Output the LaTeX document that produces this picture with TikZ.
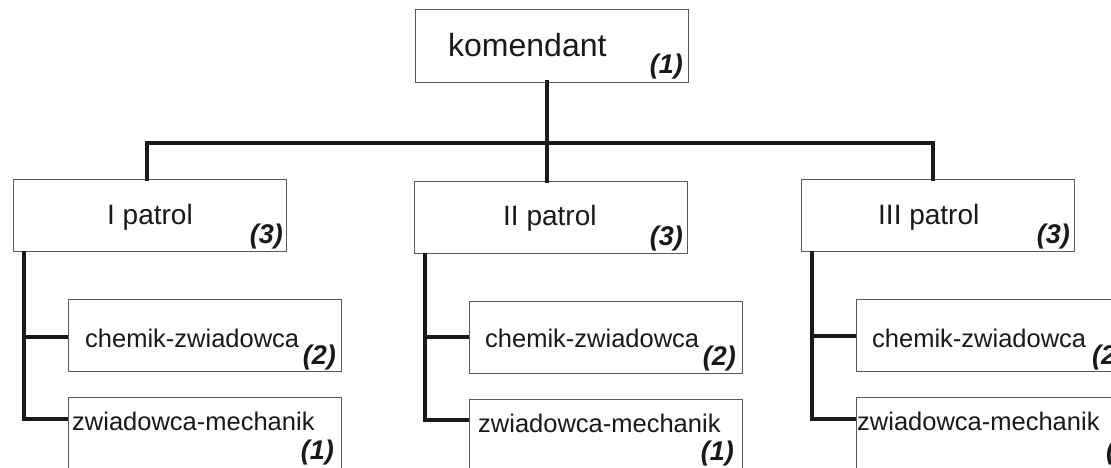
\documentclass[tikz,border=0pt]{standalone}
\usepackage{fontspec}
\setmainfont{Liberation Sans}
\begin{document}
\begin{tikzpicture}[x=1pt,y=-1pt,
  box/.style={draw=black!65, line width=0.8pt, fill=white, minimum width=273pt, minimum height=72pt, inner sep=0pt, anchor=center},
  conn/.style={line width=4pt, black!90, line cap=rect},
  big/.style={font=\fontsize{32}{36}\selectfont, inner sep=0pt, text=black!90},
  mid/.style={font=\fontsize{28}{32}\selectfont, inner sep=0pt, text=black!90},
  small/.style={font=\fontsize{25.5}{30}\selectfont, inner sep=0pt, text=black!90},
  num/.style={font=\fontsize{27}{30}\selectfont\bfseries\itshape, inner sep=0pt, anchor=base east, text=black!90}]
\clip (0,0) rectangle (1111,468);
\fill[white] (0,0) rectangle (1111,468);
\coordinate (b1) at (147,143);
\coordinate (b2) at (547,143);
\coordinate (b3) at (933,143);
% boxes
\node[box, minimum height=73pt] (K) at (551.5,45.5) {};
\node[box] (P1) at (149.5,215) {};
\node[box] (P2) at (550.5,217) {};
\node[box] (P3) at (937.5,215) {};
\node[box] (C1) at (204.5,335) {};
\node[box] (Z1) at (204.5,433) {};
\node[box] (C2) at (605.5,337) {};
\node[box] (Z2) at (605.5,435) {};
\node[box] (C3) at (992.5,335) {};
\node[box] (Z3) at (992.5,433) {};
% top bus
\draw[conn] (K.south -| b2) -- (b2);
\draw[conn] (b1) -- (b3);
\draw[conn] (b1) -- (b1 |- P1.north);
\draw[conn] (b2) -- (b2 |- P2.north);
\draw[conn] (b3) -- (b3 |- P3.north);
% spines
\coordinate (s1) at (24,419);
\coordinate (s2) at (425,420);
\coordinate (s3) at (812,419);
\draw[conn, line cap=butt] (s1 |- P1.south) -- (s1) -- (s1 -| Z1.west);
\draw[conn, line cap=butt] (24,337) -- (24,337 -| C1.west);
\draw[conn, line cap=butt] (s2 |- P2.south) -- (s2) -- (s2 -| Z2.west);
\draw[conn, line cap=butt] (425,337) -- (425,337 -| C2.west);
\draw[conn, line cap=butt] (s3 |- P3.south) -- (s3) -- (s3 -| Z3.west);
\draw[conn, line cap=butt] (812,336) -- (812,336 -| C3.west);
% texts
\node[big, anchor=base west] (tK) at (448,57) {komendant};
\node[num] (nK) at (683,74) {(1)};
\node[mid, anchor=base west] (tP1) at (107,224) {I patrol};
\node[num] (nP1) at (283,243) {(3)};
\node[mid, anchor=base west] (tP2) at (503,225) {II patrol};
\node[num] (nP2) at (683,245) {(3)};
\node[mid, anchor=base west] (tP3) at (878,224) {III patrol};
\node[num] (nP3) at (1070,243) {(3)};
\node[small, anchor=base west] (tC1) at (85,347) {chemik-zwiadowca};
\node[num] (nC1) at (336,364) {(2)};
\node[small, anchor=base west] (tZ1) at (72,430) {zwiadowca-mechanik};
\node[num] (nZ1) at (334,459) {(1)};
\node[small, anchor=base west] (tC2) at (485,347) {chemik-zwiadowca};
\node[num] (nC2) at (736,365) {(2)};
\node[small, anchor=base west] (tZ2) at (478,432) {zwiadowca-mechanik};
\node[num] (nZ2) at (734,460) {(1)};
\node[small, anchor=base west] (tC3) at (872,347) {chemik-zwiadowca};
\node[num, anchor=base west] (nC3) at (1092,364) {(2)};
\node[small, anchor=base west] (tZ3) at (857,430) {zwiadowca-mechanik};
\node[num, anchor=base west] (nZ3) at (1106,459) {(1)};
\end{tikzpicture}
\end{document}
